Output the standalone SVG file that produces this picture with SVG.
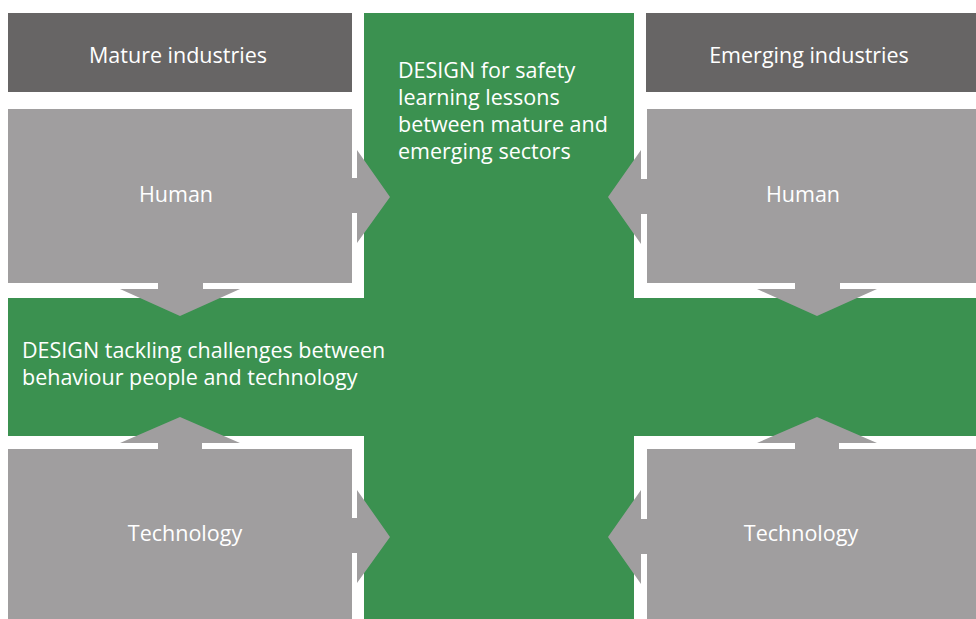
<svg xmlns="http://www.w3.org/2000/svg" width="976" height="619" viewBox="0 0 976 619">
<style>
.bg{fill:#ffffff}
.green{fill:#3b9150}
.dark{fill:#676565}
.gray{fill:#a09e9f}
.arrow{fill:#a09e9f}
text{font-family:"Open Sans","Noto Sans",sans-serif;font-size:21.5px;fill:#ffffff}
.c{text-anchor:middle}
</style>
<rect class="bg" x="0" y="0" width="976" height="619"/>
<g id="design-vertical"><rect class="green" x="364" y="13" width="270" height="606"/>
<text x="398" y="78">DESIGN for safety</text>
<text x="398" y="105">learning lessons</text>
<text x="398" y="132">between mature and</text>
<text x="398" y="159">emerging sectors</text></g>
<g id="design-horizontal"><rect class="green" x="8" y="298" width="968" height="138"/>
<rect class="green" x="364" y="290" width="270" height="160"/>
<text x="22" y="358">DESIGN tackling challenges between</text>
<text x="22" y="385">behaviour people and technology</text></g>
<g id="mature"><rect class="dark" x="8" y="13" width="344" height="79"/><text class="c" x="178" y="63">Mature industries</text></g>
<g id="emerging"><rect class="dark" x="646" y="13" width="330" height="79"/><text class="c" x="809" y="63">Emerging industries</text></g>
<g id="human-left"><rect class="gray" x="8" y="109" width="344" height="174"/><text class="c" x="176" y="202">Human</text></g>
<g id="human-right"><rect class="gray" x="647" y="109" width="329" height="174"/><text class="c" x="803" y="202">Human</text></g>
<g id="tech-left"><rect class="gray" x="8" y="449" width="344" height="170"/><text class="c" x="185" y="541">Technology</text></g>
<g id="tech-right"><rect class="gray" x="647" y="449" width="329" height="170"/><text class="c" x="801" y="541">Technology</text></g>
<g id="connectors">
<polygon class="arrow" points="351,178 357,178 357,150 390,197 357,243 357,213 351,213"/>
<polygon class="arrow" points="351,518 357,518 357,490 390,537 357,583 357,553 351,553"/>
<polygon class="arrow" points="647,179 641,179 641,150 608,197 641,244 641,214 647,214"/>
<polygon class="arrow" points="647,519 641,519 641,490 608,537 641,584 641,554 647,554"/>
<polygon class="arrow" points="158,282 203,282 203,289 240,289 180,316 120,289 158,289"/>
<polygon class="arrow" points="795,282 840,282 840,289 877,289 817,316 757,289 795,289"/>
<polygon class="arrow" points="158,450 158,443 120,443 180,417 240,443 202,443 202,450"/>
<polygon class="arrow" points="795,450 795,443 757,443 817,417 877,443 839,443 839,450"/>
</g>
</svg>
